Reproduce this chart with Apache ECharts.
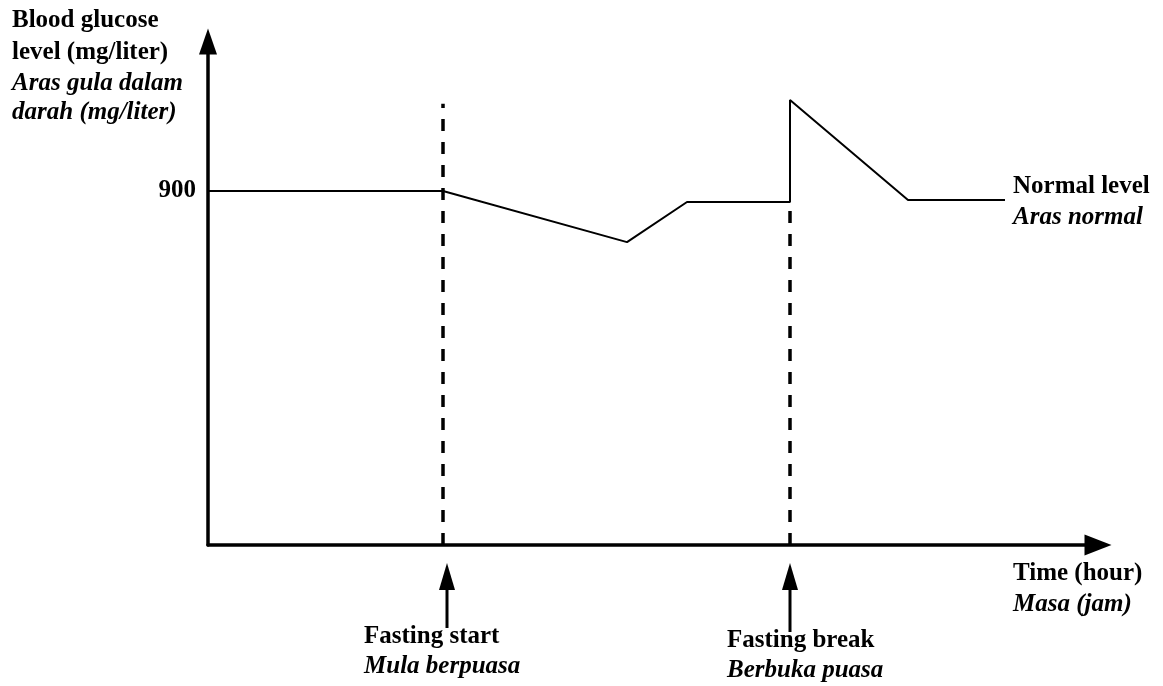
<!DOCTYPE html>
<html>
<head>
<meta charset="utf-8">
<script src="https://cdn.jsdelivr.net/npm/echarts@6/dist/echarts.min.js"></script>
<style>
  html, body { margin: 0; padding: 0; background: #fff; }
  #chart { width: 1163px; height: 686px; }
</style>
</head>
<body>
<div id="chart"></div>
<script>
// Blood glucose level over a fasting day (schematic)
const xMax = 89;            // time axis extent (hours, schematic)
const yMax = 1280;          // glucose axis extent (mg/liter)
const yTicks = [900];

// glucose curve: time and level
const curveX = [0, 23.5, 41.9, 47.9, 58.2, 58.2, 70.0, 79.7];
const curveY = [900, 900, 770, 872, 872, 1131, 877, 877];

// fasting start / fasting break markers
const eventX = [23.5, 58.2];
const eventTop = [1122, 872];
const arrowX = [23.9, 58.2];

const yTitle = ['Blood glucose', 'level (mg/liter)'];
const yTitleMs = ['Aras gula dalam', 'darah (mg/liter)'];
const eventLabels = ['Fasting start', 'Fasting break'];
const eventLabelsMs = ['Mula berpuasa', 'Berbuka puasa'];

const FONT = '"Liberation Serif", "Times New Roman", serif';
const chart = echarts.init(document.getElementById('chart'));

const series = [{
  type: 'line',
  data: curveX.map((x, i) => [x, curveY[i]]),
  symbol: 'none',
  lineStyle: { color: '#000', width: 2 },
  animation: false
}];
eventX.forEach((x, i) => {
  series.push({
    type: 'line',
    data: [[x, 0], [x, eventTop[i]]],
    symbol: 'none',
    lineStyle: { color: '#000', width: 3.5, type: [12, 11] },
    animation: false
  });
});

function txt(text, x, y, bold, italic, align) {
  return {
    type: 'text', x: x, y: y, silent: true,
    style: {
      text: text, fill: '#000', fontFamily: FONT, fontSize: 25,
      fontWeight: bold ? 'bold' : 'normal',
      fontStyle: italic ? 'italic' : 'normal',
      textAlign: align || 'left', textVerticalAlign: 'middle'
    }
  };
}

chart.setOption({
  animation: false,
  grid: { left: 208, top: 41.5, width: 890, height: 503.5 },
  xAxis: {
    type: 'value', min: 0, max: xMax,
    axisLine: { show: true, lineStyle: { color: '#000', width: 3.5 },
      symbol: ['none', 'triangle'], symbolSize: [21, 27] },
    axisTick: { show: false }, axisLabel: { show: false }, splitLine: { show: false }
  },
  yAxis: {
    type: 'value', min: 0, max: yMax,
    axisLine: { show: true, lineStyle: { color: '#000', width: 3.5 },
      symbol: ['none', 'triangle'], symbolSize: [18, 26] },
    axisTick: { show: false },
    axisLabel: { customValues: yTicks, color: '#000', fontFamily: FONT,
      fontSize: 25, fontWeight: 'bold', margin: 12 },
    splitLine: { show: false }
  },
  series: series
});

// annotation texts and event arrows below the time axis
const graphics = [
  txt(yTitle[0], 12, 21, true, false),
  txt(yTitle[1], 12, 53, true, false),
  txt(yTitleMs[0], 12, 84, true, true),
  txt(yTitleMs[1], 12, 113, true, true),
  txt('Normal level', 1013, 187, true, false),
  txt('Aras normal', 1013, 218, true, true),
  txt('Time (hour)', 1013, 574, true, false),
  txt('Masa (jam)', 1013, 605, true, true),
  txt(eventLabels[0], 364, 637, true, false),
  txt(eventLabelsMs[0], 364, 667, true, true),
  txt(eventLabels[1], 727, 641, true, false),
  txt(eventLabelsMs[1], 727, 671, true, true)
];
const shaftEnd = [628, 632];
arrowX.forEach((v, i) => {
  const px = chart.convertToPixel({ xAxisIndex: 0 }, v);
  graphics.push({
    type: 'line', silent: true,
    shape: { x1: px, y1: shaftEnd[i], x2: px, y2: 585 },
    style: { stroke: '#000', lineWidth: 3 }
  });
  graphics.push({
    type: 'polygon', silent: true,
    shape: { points: [[px, 563], [px - 8, 590], [px + 8, 590]] },
    style: { fill: '#000' }
  });
});
chart.setOption({ graphic: graphics });
</script>
</body>
</html>
